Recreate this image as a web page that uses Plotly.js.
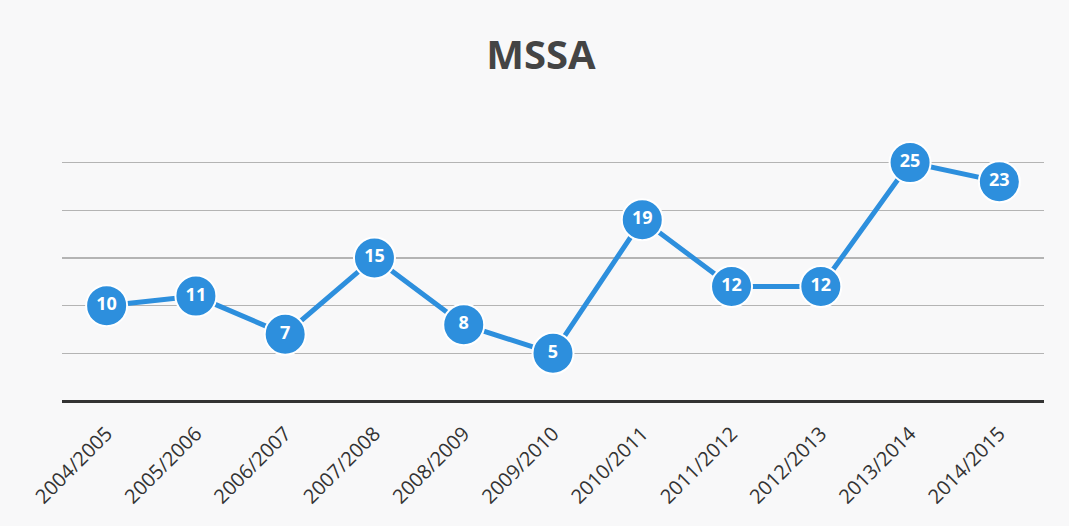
<!DOCTYPE html>
<html>
<head>
<meta charset="utf-8">
<script src="https://cdn.plot.ly/plotly-3.0.1.min.js"></script>
<style>html,body{margin:0;padding:0;background:#f8f8f9;}#chart{width:1069px;height:526px;}</style>
</head>
<body>
<div id="chart"></div>
<script>
const seasons = ["2004/2005","2005/2006","2006/2007","2007/2008","2008/2009","2009/2010","2010/2011","2011/2012","2012/2013","2013/2014","2014/2015"];
const cases = [10, 11, 7, 15, 8, 5, 19, 12, 12, 25, 23];
const chartTitle = "MSSA";

const trace = {
  x: seasons,
  y: cases,
  type: "scatter",
  mode: "lines+markers+text",
  text: cases.map(String),
  textposition: "middle center",
  textfont: {family: "Open Sans, DejaVu Sans, sans-serif", size: 18, color: "#ffffff", weight: 700},
  line: {color: "#2d8fdd", width: 5},
  marker: {size: 41, color: "#2d8fdd", line: {color: "#ffffff", width: 2}},
  cliponaxis: false,
  hoverinfo: "x+y"
};

const layout = {
  width: 1069, height: 526,
  margin: {l: 62, r: 25, t: 134, b: 125},
  paper_bgcolor: "#f8f8f9",
  plot_bgcolor: "#f8f8f9",
  showlegend: false,
  title: {text: "<b>" + chartTitle + "</b>", x: 0.506, xanchor: "center", y: 0.895, yanchor: "middle",
          font: {family: "Open Sans, DejaVu Sans, sans-serif", size: 40, color: "#444444"}},
  xaxis: {
    type: "category",
    range: [-0.5, seasons.length - 0.5],
    tickangle: -45,
    tickfont: {family: "Open Sans, DejaVu Sans, sans-serif", size: 20, color: "#333333"},
    showgrid: false,
    showline: false,
    zeroline: false,
    ticks: "outside",
    tickcolor: "rgba(0,0,0,0)",
    ticklen: 12
  },
  yaxis: {
    range: [0, 28],
    dtick: 5,
    showticklabels: false,
    showgrid: true,
    gridcolor: "#b4b4b4",
    gridwidth: 1.5,
    zeroline: true,
    zerolinecolor: "#333333",
    zerolinewidth: 3,
    showline: false,
    ticks: ""
  }
};

Plotly.newPlot("chart", [trace], layout, {displayModeBar: false, staticPlot: true});
</script>
</body>
</html>
